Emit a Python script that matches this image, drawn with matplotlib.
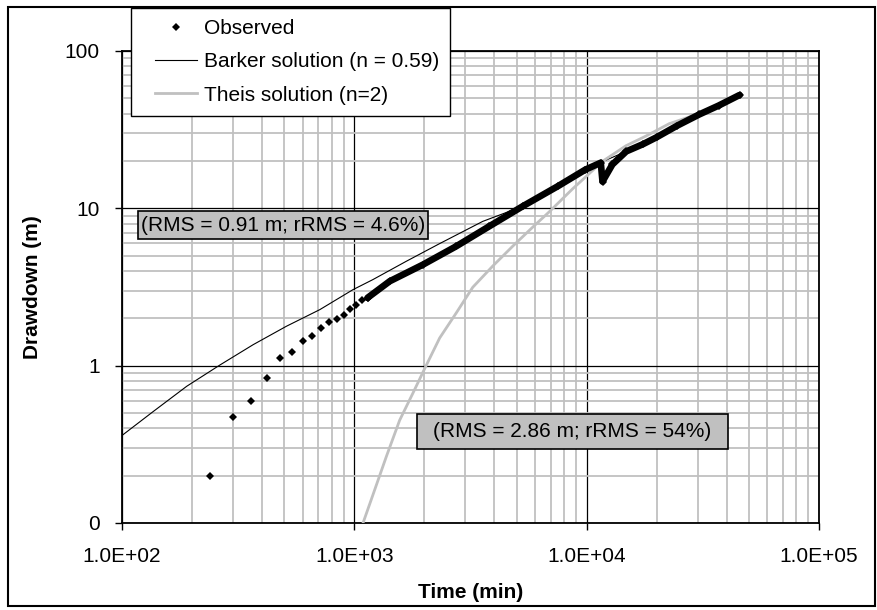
import matplotlib
matplotlib.use('Agg')
import matplotlib.pyplot as plt
from matplotlib.patches import Rectangle
from matplotlib.ticker import LogLocator, NullFormatter

plt.rcParams['font.family'] = ['Liberation Sans', 'DejaVu Sans']

# observed drawdown - early points (distinct diamonds)
obs_t = [240, 300, 360, 420, 480, 540, 600, 660, 720, 780, 840, 900, 960, 1020, 1080, 1140]
obs_s = [0.20, 0.47, 0.60, 0.83, 1.12, 1.23, 1.44, 1.55, 1.73, 1.90, 1.99, 2.09, 2.28, 2.44, 2.62, 2.70]
# observed drawdown - later points (so dense they merge into a band)
band_t = [1140, 1420, 1970, 2740, 3810, 5300, 7500, 9860, 11500, 11700, 12900, 14800,
          17500, 20000, 24500, 30500, 37000, 45500]
band_s = [2.70, 3.44, 4.38, 5.73, 7.69, 10.3, 13.8, 17.6, 19.5, 14.8, 19.0, 23.0,
          25.6, 28.3, 33.5, 39.5, 45.0, 52.5]

# Barker solution (n = 0.59)
barker_t = [100, 136, 190, 264, 367, 510, 710, 986, 1200, 1670, 2330, 3570, 4500, 5300,
            7500, 9860, 11500, 14800, 20000, 24500, 30500, 37000, 45500]
barker_s = [0.36, 0.51, 0.74, 1.01, 1.36, 1.78, 2.27, 3.04, 3.52, 4.60, 5.97, 8.26, 9.4, 10.4,
            13.9, 17.6, 19.6, 23.0, 28.3, 33.5, 39.5, 45.0, 52.5]

# Theis solution (n=2)
theis_t = [1090, 1183, 1374, 1567, 1788, 2030, 2330, 2744, 3234, 3945, 4808, 5863, 6900,
           8700, 9930, 11700, 14770, 18000, 22650, 30500, 37000, 45500]
theis_s = [0.10, 0.141, 0.265, 0.45, 0.67, 0.99, 1.50, 2.16, 3.15, 4.3, 5.75, 7.6, 9.5,
           13.3, 15.9, 19.9, 25.0, 28.8, 34.5, 40.0, 45.5, 52.8]

x_ticks = [1e2, 1e3, 1e4, 1e5]
x_labels = ['1.0E+02', '1.0E+03', '1.0E+04', '1.0E+05']
y_ticks = [0.1, 1, 10, 100]
y_labels = ['0', '1', '10', '100']

W, H = 877, 610
fig = plt.figure(figsize=(W / 100, H / 100), dpi=100)


def fx(px):
    return px / W


def fy(py):
    return 1 - py / H


ax = fig.add_axes([fx(122), fy(523), fx(819) - fx(122), fy(51) - fy(523)])
ax.set_xscale('log')
ax.set_yscale('log')

l_barker, = ax.plot(barker_t, barker_s, color='black', lw=0.8, zorder=3,
                    label='Barker solution (n = 0.59)')
l_theis, = ax.plot(theis_t, theis_s, color='#c0c0c0', lw=2.0, zorder=3,
                   label='Theis solution (n=2)')
ax.plot(band_t, band_s, color='black', lw=4.8, solid_joinstyle='round',
        solid_capstyle='round', marker='D', ms=4.2, mew=0, zorder=4)
l_obs, = ax.plot(obs_t, obs_s, ls='none', marker='D', color='black', ms=4.2, mew=0,
                 zorder=4, label='Observed')

ax.set_xlim(1e2, 1e5)
ax.set_ylim(0.1, 100)
ax.set_xticks(x_ticks, labels=x_labels)
ax.set_yticks(y_ticks, labels=y_labels)
ax.xaxis.set_minor_locator(LogLocator(base=10, subs=range(2, 10), numticks=20))
ax.yaxis.set_minor_locator(LogLocator(base=10, subs=range(2, 10), numticks=20))
ax.xaxis.set_minor_formatter(NullFormatter())
ax.yaxis.set_minor_formatter(NullFormatter())
ax.tick_params(which='major', direction='out', length=5, width=1, pad=11, labelsize=15)
ax.tick_params(axis='x', which='major', pad=12)
ax.tick_params(which='minor', length=0)

ax.set_axisbelow(True)
ax.grid(True, which='minor', color='#c0c0c0', lw=1.3)
ax.grid(True, which='major', color='black', lw=0.9)
for sp in ax.spines.values():
    sp.set_linewidth(1.3)

ax.set_xlabel('Time (min)', fontsize=15, fontweight='bold', va='center')
ax.xaxis.set_label_coords(0.5, -(592 - 523) / 472)
ax.set_ylabel('Drawdown (m)', fontsize=15, fontweight='bold', va='center')
ax.yaxis.set_label_coords((33 - 122) / 697, 0.5)

# RMS boxes
for (x0, y0, x1, y1), txt in [((138, 211, 428, 239), '(RMS = 0.91 m; rRMS = 4.6%)'),
                               ((417, 414, 728, 449), '(RMS = 2.86 m; rRMS = 54%)')]:
    fig.add_artist(Rectangle((fx(x0), fy(y1)), fx(x1) - fx(x0), fy(y0) - fy(y1),
                             transform=fig.transFigure, fc='#c0c0c0', ec='black',
                             lw=1.2, zorder=5))
    fig.text(fx((x0 + x1) / 2), fy((y0 + y1) / 2), txt, fontsize=15,
             ha='center', va='center', zorder=6)

# legend: white box with black edge, entries placed inside it
fig.add_artist(Rectangle((fx(131), fy(116)), fx(450) - fx(131), fy(8) - fy(116),
                         transform=fig.transFigure, fc='white', ec='black',
                         lw=1.0, zorder=7))
leg = fig.legend(handles=[l_obs, l_barker, l_theis], loc='upper left',
                 bbox_to_anchor=(fx(155), fy(19)), bbox_transform=fig.transFigure,
                 borderaxespad=0, borderpad=0, fontsize=15, frameon=False,
                 labelspacing=0.69, handlelength=2.0, handletextpad=0.35)
leg.set_zorder(8)

# border round the whole chart
fig.add_artist(Rectangle((fx(8), fy(606)), fx(875) - fx(8), fy(7) - fy(606),
                         transform=fig.transFigure, fill=False, ec='black', lw=1.5))

fig.savefig('out.png', dpi=100)
